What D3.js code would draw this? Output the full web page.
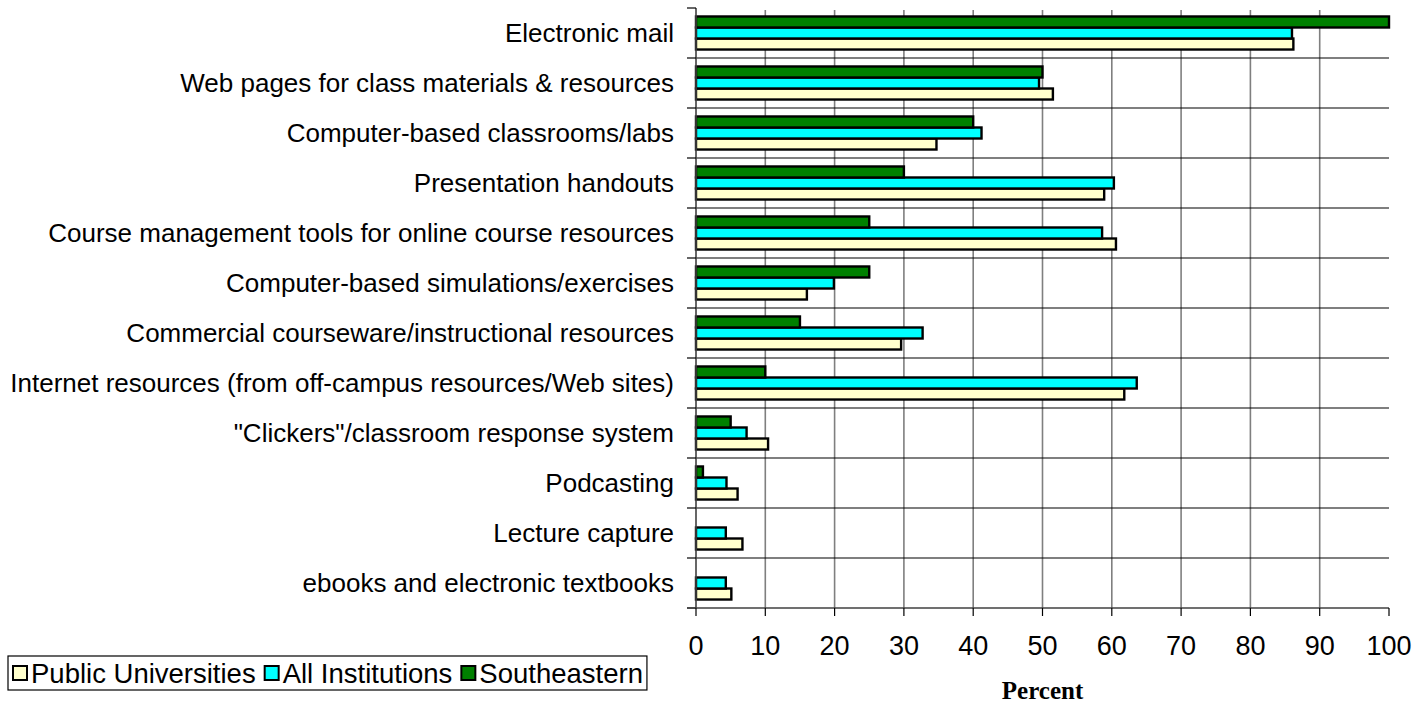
<!DOCTYPE html>
<html>
<head>
<meta charset="utf-8">
<script src="https://cdn.jsdelivr.net/npm/d3@7"></script>
<style>
  html, body { margin: 0; padding: 0; background: #fff; }
  svg { display: block; }
</style>
</head>
<body>
<svg id="chart" width="1416" height="704"></svg>
<script>
const categories = [
  "Electronic mail",
  "Web pages for class materials & resources",
  "Computer-based classrooms/labs",
  "Presentation handouts",
  "Course management tools for online course resources",
  "Computer-based simulations/exercises",
  "Commercial courseware/instructional resources",
  "Internet resources (from off-campus resources/Web sites)",
  "\"Clickers\"/classroom response system",
  "Podcasting",
  "Lecture capture",
  "ebooks and electronic textbooks"
];
const publicUniversities = [86.2, 51.5, 34.7, 58.9, 60.6, 16.0, 29.6, 61.8, 10.4, 6.0, 6.7, 5.1];
const allInstitutions    = [86.0, 49.5, 41.2, 60.3, 58.6, 19.9, 32.7, 63.6, 7.3, 4.4, 4.3, 4.3];
const southeastern       = [100, 50, 40, 30, 25, 25, 15, 10, 5, 1, null, null];
const seriesNames = ["Public Universities", "All Institutions", "Southeastern"];
const seriesColors = ["#FFFFCC", "#00FFFF", "#008000"];
const xTicks = [0, 10, 20, 30, 40, 50, 60, 70, 80, 90, 100];
const xTitle = "Percent";

const seriesValues = [publicUniversities, allInstitutions, southeastern];

const svg = d3.select("#chart");
const pLeft = 696, pRight = 1389, pTop = 8, pBottom = 608;
const FONT = "'Liberation Sans', Arial, sans-serif";

const x = d3.scaleLinear().domain([0, 100]).range([pLeft, pRight]);
const y = d3.scaleBand().domain(categories).range([pTop, pBottom]).paddingInner(0).paddingOuter(0);
const inner = d3.scaleBand().domain(["Southeastern", "All Institutions", "Public Universities"])
  .range([0, y.bandwidth()]).paddingInner(0).paddingOuter(0.77);

// vertical gridlines
svg.append("g").selectAll("line").data(xTicks.filter(t => t > 0 && t < 100)).join("line")
  .attr("x1", d => x(d)).attr("x2", d => x(d))
  .attr("y1", pTop + 2).attr("y2", pBottom)
  .attr("stroke", "#7f7f7f").attr("stroke-width", 1.6);

// horizontal gridlines at category boundaries
const boundaries = categories.slice(1).map(c => y(c));
svg.append("g").selectAll("line").data(boundaries).join("line")
  .attr("x1", pLeft).attr("x2", pRight)
  .attr("y1", d => d).attr("y2", d => d)
  .attr("stroke", "#000").attr("stroke-width", 1.2);

// bars
const barData = [];
seriesNames.forEach((s, si) => {
  categories.forEach((c, ci) => {
    const v = seriesValues[si][ci];
    if (v != null) barData.push({ s, si, c, v });
  });
});
svg.append("g").selectAll("rect").data(barData).join("rect")
  .attr("x", x(0))
  .attr("y", d => y(d.c) + inner(d.s))
  .attr("width", d => x(d.v) - x(0))
  .attr("height", inner.bandwidth())
  .attr("fill", d => seriesColors[d.si])
  .attr("stroke", "#000")
  .attr("stroke-width", 2.4);

// y axis
const yAxisG = svg.append("g");
yAxisG.append("line").attr("x1", pLeft).attr("x2", pLeft).attr("y1", pTop).attr("y2", pBottom)
  .attr("stroke", "#404040").attr("stroke-width", 1.6);
const yTickPos = categories.map(c => y(c)).concat([pBottom]);
yAxisG.selectAll("line.t").data(yTickPos).join("line").attr("class", "t")
  .attr("x1", pLeft - 9).attr("x2", pLeft).attr("y1", d => d).attr("y2", d => d)
  .attr("stroke", "#000").attr("stroke-width", 1.2);
yAxisG.selectAll("text").data(categories).join("text")
  .attr("x", 674).attr("y", d => y(d) + y.bandwidth() / 2 + 9)
  .attr("text-anchor", "end")
  .attr("font-family", FONT).attr("font-size", 26).attr("fill", "#000")
  .text(d => d);

// x axis
const xAxisG = svg.append("g");
xAxisG.append("line").attr("x1", pLeft - 9).attr("x2", pRight).attr("y1", pBottom).attr("y2", pBottom)
  .attr("stroke", "#404040").attr("stroke-width", 1.6);
xAxisG.selectAll("line.t").data(xTicks).join("line").attr("class", "t")
  .attr("x1", d => x(d)).attr("x2", d => x(d)).attr("y1", pBottom).attr("y2", pBottom + 8)
  .attr("stroke", "#000").attr("stroke-width", 1.2);
xAxisG.selectAll("text").data(xTicks).join("text")
  .attr("x", d => x(d)).attr("y", 655)
  .attr("text-anchor", "middle")
  .attr("font-family", FONT).attr("font-size", 27).attr("fill", "#000")
  .text(d => d);

svg.append("text")
  .attr("x", x(50)).attr("y", 699)
  .attr("text-anchor", "middle")
  .attr("font-family", "'Liberation Serif', 'Times New Roman', serif")
  .attr("font-weight", "bold").attr("font-size", 25)
  .text(xTitle);

// legend
const lg = svg.append("g");
const lgBox = lg.append("rect").attr("x", 8).attr("y", 656).attr("height", 34)
  .attr("fill", "#fff").attr("stroke", "#000").attr("stroke-width", 1.2);
let cx = 13;
seriesNames.forEach((s, i) => {
  lg.append("rect").attr("x", cx).attr("y", 666).attr("width", 14).attr("height", 14)
    .attr("fill", seriesColors[i]).attr("stroke", "#000").attr("stroke-width", 2);
  const t = lg.append("text").attr("x", cx + 18).attr("y", 683)
    .attr("font-family", FONT).attr("font-size", 27.5).attr("fill", "#000").text(s);
  cx += 18 + t.node().getComputedTextLength() + 9;
});
lgBox.attr("width", cx - 8 - 5);
</script>
</body>
</html>
